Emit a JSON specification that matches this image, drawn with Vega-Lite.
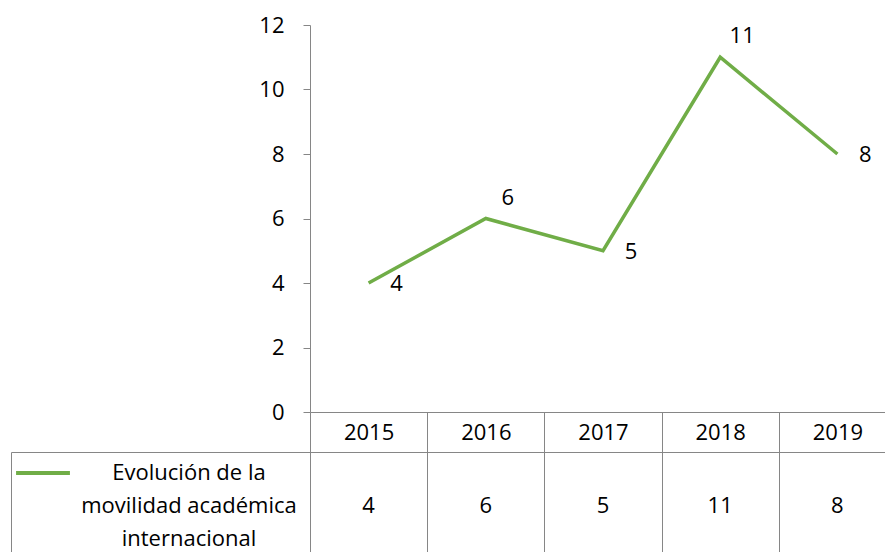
{
  "$schema": "https://vega.github.io/schema/vega-lite/v6.json",
  "padding": {"left": 10, "top": 14, "right": 0, "bottom": 0},
  "background": "white",
  "config": {
    "font": "Open Sans",
    "view": {"stroke": null},
    "axis": {"labelFont": "Open Sans", "labelFontSize": 22, "labelColor": "black", "domainColor": "#868686", "tickColor": "#868686", "gridColor": "#868686", "gridOpacity": 1},
    "text": {"font": "Open Sans", "fontSize": 22, "color": "black"}
  },
  "datasets": {
    "d": [
      {"year": "2015", "value": 4, "serie": "Evolución de la movilidad académica internacional"},
      {"year": "2016", "value": 6, "serie": "Evolución de la movilidad académica internacional"},
      {"year": "2017", "value": 5, "serie": "Evolución de la movilidad académica internacional"},
      {"year": "2018", "value": 11, "serie": "Evolución de la movilidad académica internacional"},
      {"year": "2019", "value": 8, "serie": "Evolución de la movilidad académica internacional"}
    ],
    "s": [
      {"label": "Evolución de la\nmovilidad académica\ninternacional"}
    ]
  },
  "bounds": "flush",
  "spacing": 40,
  "vconcat": [
    {
      "width": 885,
      "height": 387,
      "data": {"name": "d"},
      "encoding": {
        "x": {
          "field": "year", "type": "ordinal",
          "scale": {"type": "band", "range": [299, 885], "paddingInner": 0, "paddingOuter": 0},
          "axis": {"orient": "bottom", "title": null, "labelAngle": 0, "tickBand": "extent", "tickSize": 40, "labelPadding": -20, "labelBaseline": "middle", "grid": false}
        },
        "y": {
          "field": "value", "type": "quantitative",
          "scale": {"domain": [0, 12]},
          "axis": {"orient": "left", "offset": -299, "values": [0, 2, 4, 6, 8, 10, 12], "grid": false, "title": null, "tickSize": 7, "labelPadding": 19}
        }
      },
      "layer": [
        {
          "mark": {"type": "line", "strokeWidth": 3.5},
          "encoding": {
            "color": {
              "field": "serie", "type": "nominal",
              "scale": {"range": ["#70AD47"]},
              "legend": {"orient": "none", "legendX": 3, "legendY": 419, "title": null, "labelExpr": "''", "symbolType": "stroke", "symbolSize": 2900, "symbolStrokeWidth": 4, "padding": 0}
            }
          }
        },
        {
          "transform": [{"filter": "datum.year == '2016' || datum.year == '2018'"}],
          "mark": {"type": "text", "dx": 22, "dy": -21},
          "encoding": {"text": {"field": "value"}}
        },
        {
          "transform": [{"filter": "datum.year != '2016' && datum.year != '2018'"}],
          "mark": {"type": "text", "dx": 28, "dy": 1},
          "encoding": {"text": {"field": "value"}}
        }
      ]
    },
    {
      "width": 885,
      "height": 108,
      "view": {"stroke": "#868686"},
      "layer": [
        {
          "data": {"name": "d"},
          "mark": {"type": "text"},
          "encoding": {
            "x": {
              "field": "year", "type": "ordinal",
              "scale": {"type": "band", "range": [299, 885], "paddingInner": 0, "paddingOuter": 0},
              "axis": {"orient": "top", "grid": true, "tickBand": "extent", "ticks": false, "labels": false, "domain": false, "title": null}
            },
            "text": {"field": "value"}
          }
        },
        {
          "data": {"name": "s"},
          "mark": {"type": "text", "lineBreak": "\n", "lineHeight": 33, "dy": -33},
          "encoding": {
            "x": {"field": "label", "type": "nominal", "scale": {"type": "point", "range": [0, 356]}, "axis": null},
            "text": {"field": "label"}
          }
        }
      ],
      "resolve": {"scale": {"x": "independent"}}
    }
  ]
}
